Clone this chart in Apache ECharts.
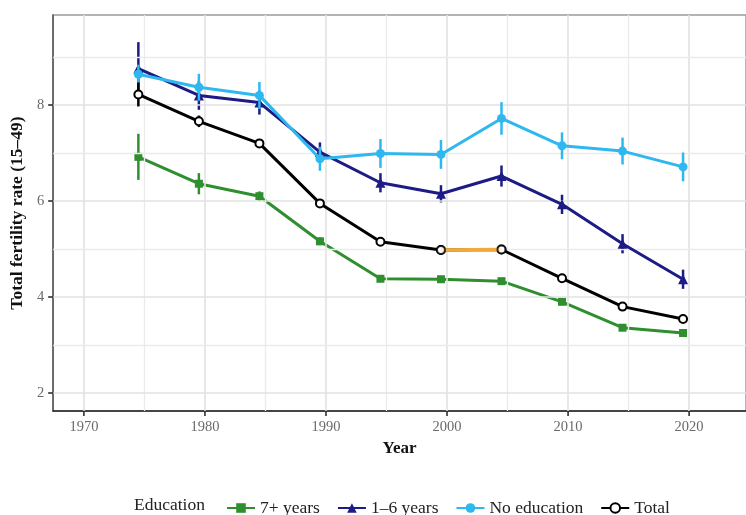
<!DOCTYPE html>
<html><head><meta charset="utf-8">
<script src="https://cdn.jsdelivr.net/npm/echarts@6/dist/echarts.min.js"></script>
<style>html,body{margin:0;padding:0;background:#fff}#c{width:746px;height:515px}</style>
</head><body><div id="c"></div>
<script>
// ---- data ----
const years = [1974.5, 1979.5, 1984.5, 1989.5, 1994.5, 1999.5, 2004.5, 2009.5, 2014.5, 2019.5];
const edu7 = [6.92, 6.36, 6.10, 5.16, 4.38, 4.37, 4.33, 3.90, 3.36, 3.25];
const edu7Err = [0.48, 0.22, 0.10, 0.08, 0.05, 0.05, 0.05, 0.05, 0.05, 0.05];
const edu16 = [8.76, 8.20, 8.05, 7.02, 6.38, 6.15, 6.52, 5.93, 5.11, 4.37];
const edu16Err = [0.55, 0.30, 0.25, 0.20, 0.20, 0.18, 0.22, 0.20, 0.20, 0.20];
const noEdu = [8.64, 8.37, 8.20, 6.88, 6.99, 6.97, 7.72, 7.15, 7.04, 6.71];
const noEduErr = [0.20, 0.28, 0.28, 0.25, 0.30, 0.30, 0.34, 0.28, 0.28, 0.30];
const total = [8.22, 7.66, 7.20, 5.95, 5.15, 4.98, 4.99, 4.39, 3.80, 3.54];
const totalErr = [0.25, 0.12, 0.08, 0.05, 0.05, 0.05, 0.05, 0.05, 0.05, 0.05];
const highlightYears = [1999.5, 2004.5];
const seriesNames = ['7+ years', '1–6 years', 'No education', 'Total'];
const xMajor = [1970, 1980, 1990, 2000, 2010, 2020];
const xMinor = [1975, 1985, 1995, 2005, 2015];
const yMajor = [2, 4, 6, 8];
const yMinor = [3, 5, 7, 9];
const X_MIN = 1967.46, X_MAX = 2024.7, Y_MIN = 1.625, Y_MAX = 9.875;

const FONT = '"Liberation Serif", "DejaVu Serif", serif';
const C7 = '#2f8f2f', C16 = '#1c1c84', CNO = '#2eb8ef', CT = '#000000', COR = '#f2a93b';

function pts(vals){ return years.map((x,i)=>[x, vals[i]]); }
function errSeries(vals, errs, color, z){
  return {
    type:'custom', silent:true, z:z, animation:false,
    data: years.map((x,i)=>[x, vals[i]-errs[i], vals[i]+errs[i]]),
    encode:{x:0, y:[1,2]},
    renderItem:function(params, api){
      const a = api.coord([api.value(0), api.value(1)]);
      const b = api.coord([api.value(0), api.value(2)]);
      return {type:'line', shape:{x1:a[0],y1:a[1],x2:b[0],y2:b[1]}, style:{stroke:color, lineWidth:2.5}};
    }
  };
}
function lineSeries(name, vals, color, symbol, size, z, extra){
  return Object.assign({
    type:'line', name:name, data:pts(vals), z:z, symbol:symbol, symbolSize:size, showSymbol:true,
    lineStyle:{width:3, color:color}, itemStyle:{color:color}, animation:false, silent:true
  }, extra||{});
}
// axis tick marks at the major values, placed through the axis scales
const tickData = xMajor.map(v=>[v, Y_MIN, 0]).concat(yMajor.map(v=>[X_MIN, v, 1]));
const tickSeries = {
  type:'custom', silent:true, z:12, animation:false, clip:false,
  data: tickData, encode:{x:0, y:1},
  renderItem:function(params, api){
    const p = api.coord([api.value(0), api.value(1)]);
    const vertical = api.value(2) === 0;
    const shape = vertical ? {x1:p[0], y1:p[1], x2:p[0], y2:p[1]+5} : {x1:p[0]-5, y1:p[1], x2:p[0], y2:p[1]};
    return {type:'line', shape:shape, style:{stroke:'#222', lineWidth:1.5}};
  }
};

const gridLines = [];
xMajor.forEach(v=>gridLines.push({xAxis:v, lineStyle:{color:'#e2e2e2', width:1.6, type:'solid'}}));
xMinor.forEach(v=>gridLines.push({xAxis:v, lineStyle:{color:'#ebebeb', width:1.3, type:'solid'}}));
yMajor.forEach(v=>gridLines.push({yAxis:v, lineStyle:{color:'#e2e2e2', width:1.6, type:'solid'}}));
yMinor.forEach(v=>gridLines.push({yAxis:v, lineStyle:{color:'#ebebeb', width:1.3, type:'solid'}}));

const chart = echarts.init(document.getElementById('c'), null, {renderer:'canvas'});
chart.setOption({
  animation:false,
  backgroundColor:'#ffffff',
  grid:{left:52, top:15, width:706, height:396, show:true, borderColor:'#9a9a9a', borderWidth:1.5, containLabel:false},
  xAxis:{
    type:'value', min:X_MIN, max:X_MAX, minInterval:10,
    name:'Year', nameLocation:'middle', nameGap:29,
    nameTextStyle:{fontFamily:FONT, fontSize:17, fontWeight:'bold', color:'#111'},
    axisLine:{lineStyle:{color:'#222', width:1.5}},
    axisTick:{show:false},
    axisLabel:{fontFamily:FONT, fontSize:14.5, color:'#6a6a6a', margin:9, customValues:xMajor,
               formatter:function(v){return String(v);}},
    splitLine:{show:false}
  },
  yAxis:{
    type:'value', min:Y_MIN, max:Y_MAX, minInterval:2,
    name:'Total fertility rate (15–49)', nameLocation:'middle', nameGap:24, nameRotate:90,
    nameTextStyle:{fontFamily:FONT, fontSize:17.5, fontWeight:'bold', color:'#111'},
    axisLine:{show:true, lineStyle:{color:'#555', width:1.5}},
    axisTick:{show:false},
    axisLabel:{fontFamily:FONT, fontSize:14.5, color:'#6a6a6a', margin:9, customValues:yMajor,
               formatter:function(v){return String(v);}},
    splitLine:{show:false}
  },
  legend:{
    data: seriesNames, left:221, top:494, itemWidth:28, itemHeight:12, itemGap:17,
    textStyle:{fontFamily:FONT, fontSize:17.5, color:'#222'}, selectedMode:false
  },
  graphic:[{type:'text', left:134, top:496, style:{text:'Education', font:'17.5px "Liberation Serif", serif', fill:'#222'}}],
  series:[
    {type:'line', data:[], z:1, silent:true, animation:false,
     markLine:{silent:true, symbol:['none','none'], label:{show:false}, animation:false, data:gridLines}},
    errSeries(edu7, edu7Err, C7, 2),
    lineSeries('7+ years', edu7, C7, 'rect', 8, 3),
    errSeries(edu16, edu16Err, C16, 4),
    lineSeries('1–6 years', edu16, C16, 'triangle', 10, 5),
    errSeries(noEdu, noEduErr, CNO, 6),
    lineSeries('No education', noEdu, CNO, 'circle', 9, 7),
    errSeries(total, totalErr, CT, 8),
    lineSeries('Total', total, CT, 'emptyCircle', 8, 9, {itemStyle:{color:CT, borderWidth:2, borderColor:CT}}),
    {type:'line', data: highlightYears.map(x=>[x, total[years.indexOf(x)]]), z:10, symbol:'none',
     lineStyle:{width:3.5, color:COR}, silent:true, animation:false},
    {type:'scatter', data: highlightYears.map(x=>[x, total[years.indexOf(x)]]), z:11, symbol:'emptyCircle', symbolSize:8,
     itemStyle:{color:CT, borderColor:CT, borderWidth:2}, silent:true, animation:false},
    tickSeries
  ]
});
</script>
</body></html>
